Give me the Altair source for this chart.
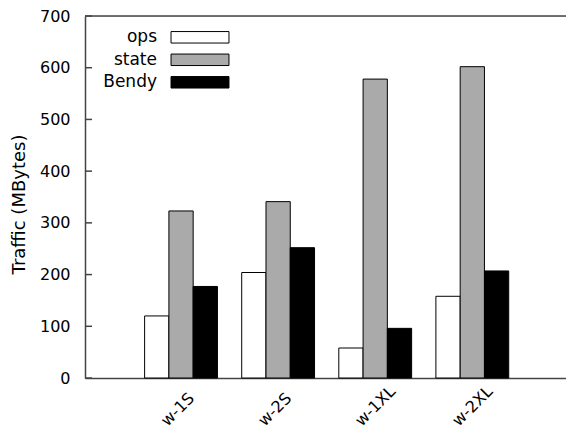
import altair as alt
import pandas as pd

categories = ["w-1S", "w-2S", "w-1XL", "w-2XL"]
series = ["ops", "state", "Bendy"]
ops = [120, 204, 58, 158]
state = [323, 341, 578, 602]
bendy = [177, 252, 96, 207]
y_ticks = [0, 100, 200, 300, 400, 500, 600, 700]
colors = ["#ffffff", "#aaaaaa", "#000000"]

rows = []
for i, c in enumerate(categories):
    for s, vals in zip(series, [ops, state, bendy]):
        rows.append({"cat": c, "series": s, "value": vals[i]})
df = pd.DataFrame(rows)
tick_df = pd.DataFrame({"value": y_ticks})
top_df = pd.DataFrame({"value": [700]})

W, H = 481, 362
FONT = "DejaVu Sans"
AXC = "#444444"

y_enc = alt.Y(
    "value:Q",
    scale=alt.Scale(domain=[0, 700], nice=False, zero=True),
    title="Traffic (MBytes)",
    axis=alt.Axis(
        values=y_ticks, ticks=False, grid=False, labelPadding=15,
        labelFontSize=16, labelFont=FONT, labelColor="black",
        domainColor=AXC, domainWidth=1.5,
        titleFont=FONT, titleFontSize=18, titleFontWeight="normal", titleColor="black",
        titleAngle=-90, titleAlign="center", titleBaseline="middle",
        titleX=-66, titleY=188,
    ),
)

# legend swatch: wide rectangle drawn to the right of the symbol anchor,
# so that the right-aligned label sits on its left
swatch = "M3.92,-1H14.01V1H3.92Z"

bars = alt.Chart(df).mark_bar(stroke="black", strokeWidth=1).encode(
    x=alt.X(
        "cat:N", sort=categories, title=None,
        scale=alt.Scale(paddingInner=0.25, paddingOuter=0.602, align=0.51),
        axis=alt.Axis(
            labelAngle=-45, labelAlign="left", labelBaseline="middle",
            ticks=False, labelPadding=45, labelOffset=-17, labelFontSize=16,
            labelFont=FONT, labelColor="black", domainColor=AXC, domainWidth=1.5,
        ),
    ),
    xOffset=alt.XOffset("series:N", sort=series,
                        scale=alt.Scale(domain=series, paddingInner=0, paddingOuter=0)),
    y=y_enc,
    fill=alt.Fill(
        "series:N", sort=series,
        scale=alt.Scale(domain=series, range=colors),
        legend=alt.Legend(
            title=None, orient="none", legendX=55, legendY=12.8, direction="vertical",
            symbolType=swatch, symbolSize=132, symbolOffset=0,
            symbolStrokeColor="black", symbolStrokeWidth=1, symbolOpacity=1,
            labelAlign="right", labelOffset=0, labelFontSize=17, labelFont=FONT,
            labelColor="black", rowPadding=4.5, padding=0,
        ),
    ),
)

ticks = alt.Chart(tick_df).mark_rule(color=AXC, strokeWidth=1.5).encode(
    y=y_enc, x=alt.value(0), x2=alt.value(7)
)
top = alt.Chart(top_df).mark_rule(color=AXC, strokeWidth=1.5).encode(
    y=y_enc, x=alt.value(0), x2=alt.value(W)
)

chart = alt.layer(bars, ticks, top).properties(
    width=W, height=H,
    autosize=alt.AutoSizeParams(type="none"),
    padding={"left": 85, "top": 16, "right": 0, "bottom": 54},
).configure_view(stroke=None).configure(font=FONT, background="white")

chart.save("out.html", embed_options={"renderer": "svg", "actions": False})
